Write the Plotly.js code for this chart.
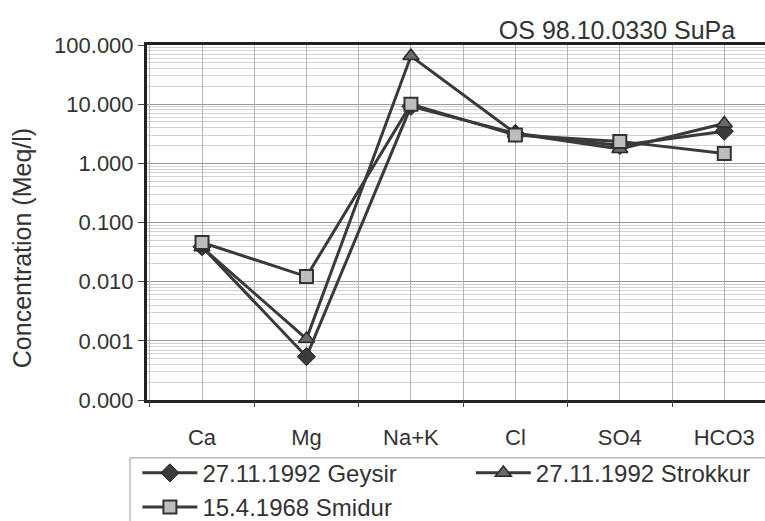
<!DOCTYPE html>
<html>
<head>
<meta charset="utf-8">
<script src="https://cdn.plot.ly/plotly-3.0.1.min.js"></script>
<style>html,body{margin:0;padding:0;background:#fff;}#chart{width:765px;height:521px;}</style>
</head>
<body>
<div id="chart"></div>
<script>
const categories = ["Ca", "Mg", "Na+K", "Cl", "SO4", "HCO3"];
const geysir   = [0.039, 0.00054, 9.2, 3.2, 2.0, 3.5];
const strokkur = [0.038, 0.00108, 65, 3.2, 1.75, 4.7];
const smidur   = [0.046, 0.0122, 10.0, 3.0, 2.35, 1.47];
const seriesNames = ["27.11.1992 Geysir", "27.11.1992 Strokkur", "15.4.1968 Smidur"];
const titleText = "OS 98.10.0330 SuPa";
const yTitle = "Concentration (Meq/l)";

const FONT = "Liberation Sans, Arial, sans-serif";
const lineCol = "#3a3a3a";
const xr = [-0.527, 5.39];

const traces = [
  {x: categories, y: geysir, name: seriesNames[0], mode: "lines+markers", legend: "legend",
   line: {color: lineCol, width: 3},
   marker: {symbol: "diamond", size: 14, color: "#3a3a3a", line: {color: "#222", width: 1}}},
  {x: categories, y: strokkur, name: seriesNames[1], mode: "lines+markers", legend: "legend2",
   line: {color: lineCol, width: 3},
   marker: {symbol: "triangle-up", size: 14, color: "#6a6a6a", line: {color: "#2a2a2a", width: 1.5}}},
  {x: categories, y: smidur, name: seriesNames[2], mode: "lines+markers", legend: "legend",
   line: {color: lineCol, width: 3},
   marker: {symbol: "square", size: 13, color: "#bdbdbd", line: {color: "#333", width: 2}}},
  {x: [], y: [], xaxis: "x2", yaxis: "y", showlegend: false, hoverinfo: "skip", mode: "markers"}
];

const legendFont = {family: FONT, size: 24, color: "#333"};

const layout = {
  width: 765, height: 521,
  margin: {l: 147, r: 0, t: 45, b: 121, autoexpand: false},
  paper_bgcolor: "#ffffff", plot_bgcolor: "#ffffff",
  font: {family: FONT, color: "#333", size: 21},
  showlegend: true,
  title: {text: titleText, x: 0.961, xanchor: "right", y: 0.942, yanchor: "middle",
          font: {family: FONT, size: 25, color: "#333"}},
  xaxis: {
    type: "category", categoryorder: "array", categoryarray: categories,
    range: xr, showgrid: true, gridcolor: "#b5b5b5", gridwidth: 1,
    ticks: "", ticklabelstandoff: 16, showline: true, linecolor: "#222", linewidth: 3, mirror: true,
    tickfont: {family: FONT, size: 22, color: "#333"}, zeroline: false
  },
  xaxis2: {
    overlaying: "x", type: "linear", range: xr, tickmode: "linear", tick0: 0.5, dtick: 1,
    showgrid: true, gridcolor: "#b5b5b5", gridwidth: 1, ticks: "outside", ticklen: 6,
    tickcolor: "#444", showticklabels: false, showline: false, zeroline: false, side: "bottom"
  },
  yaxis: {
    type: "log", range: [-4, 2], dtick: 1, tickformat: ".3f",
    ticks: "outside", ticklen: 6, tickcolor: "#444",
    showline: true, linecolor: "#222", linewidth: 3,
    showgrid: true, gridcolor: "#9a9a9a", gridwidth: 1,
    minor: {dtick: "D1", showgrid: true, gridcolor: "#d2d2d2", gridwidth: 1, ticks: ""},
    tickfont: {family: FONT, size: 22, color: "#333"},
    zeroline: false
  },
  annotations: [
    {text: yTitle, xref: "paper", yref: "paper", x: -0.202, y: 0.428,
     xanchor: "center", yanchor: "middle", textangle: -90, showarrow: false,
     font: {family: FONT, size: 25, color: "#333"}}
  ],
  legend: {
    orientation: "v", x: -0.0155, xanchor: "left", y: -0.143, yanchor: "top",
    borderwidth: 0, bgcolor: "rgba(0,0,0,0)", font: legendFont, itemwidth: 55,
    tracegroupgap: 0, traceorder: "normal"
  },
  legend2: {
    orientation: "v", x: 0.524, xanchor: "left", y: -0.143, yanchor: "top",
    borderwidth: 0, bgcolor: "rgba(0,0,0,0)", font: legendFont, itemwidth: 55
  },
  shapes: [
    {type: "rect", xref: "paper", yref: "paper", x0: -0.0275, x1: 1.2, y0: -0.163, y1: -0.6,
     line: {color: "#9a9a9a", width: 1}, fillcolor: "rgba(0,0,0,0)", layer: "below"}
  ]
};

Plotly.newPlot("chart", traces, layout, {staticPlot: true, displayModeBar: false});
</script>
</body>
</html>
